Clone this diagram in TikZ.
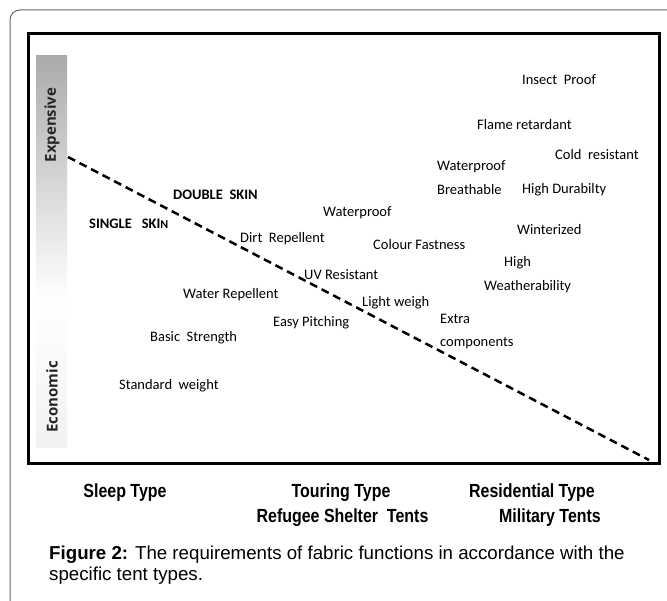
\documentclass[tikz,border=0pt]{standalone}
\usepackage{fontspec}
\setmainfont{Carlito}
\newfontfamily\arialn[FakeStretch=0.84]{Liberation Sans}
\newfontfamily\arialf{Liberation Sans}
\newfontfamily\opensf{Open Sans}
\definecolor{bartop}{HTML}{ABABAB}
\definecolor{barbot}{HTML}{F1F1F1}
\begin{document}
\begin{tikzpicture}[x=1pt,y=-1pt,
  lbl/.style={anchor=west,inner sep=0pt,font=\fontsize{14.5}{17}\selectfont,text=black},
  blbl/.style={lbl,font=\fontsize{14.5}{17}\selectfont\bfseries},
  axlbl/.style={inner sep=0pt,rotate=90,font=\opensf\bfseries\fontsize{15}{17}\selectfont,text=black!85},
  typelbl/.style={inner sep=0pt,font=\arialn\bfseries\fontsize{19}{21}\selectfont},
  caplbl/.style={anchor=north west,inner sep=0pt,align=left,font=\arialf\fontsize{18.7}{20.5}\selectfont},
  frame/.style={draw=black,line width=3pt},
  divider/.style={draw=black,line width=2.5pt,dash pattern=on 8pt off 5pt}]
\useasboundingbox (0,0) rectangle (667,601);
\clip (0,0) rectangle (667,601);
\draw[black!60,line width=1pt,rounded corners=10pt] (10,10) rectangle (700,640);
\fill[white] (28,34) rectangle (659,464);
\shade[top color=bartop,bottom color=white] (36,56) rectangle (67,300);
\shade[top color=white,bottom color=barbot] (36,299.5) rectangle (67,448);
\draw[frame] (28,34) rectangle (659,464);
\node[axlbl] (exp) at (52,125) {Expensive};
\node[axlbl] (eco) at (52,397) {Economic};
\coordinate (dstart) at (68,157);
\coordinate (dend) at (649,460);
\draw[divider] (dstart) -- (dend);
% labels
\node[lbl] (insect) at (522,80) {Insect\ \ Proof};
\node[lbl] (flame) at (477,125) {Flame retardant};
\node[lbl] (cold) at (555,155) {Cold\ \ resistant};
\node[lbl] (wp2) at (437,167) {Waterproof};
\node[lbl] (breath) at (437,190) {Breathable};
\node[lbl] (durab) at (522,190) {High Durabilty};
\node[lbl] (winter) at (517,230) {Winterized};
\node[lbl] (colour) at (373,245) {Colour Fastness};
\node[lbl] (high) at (504,263) {High};
\node[lbl] (weather) at (484,287) {Weatherability};
\node[blbl] (double) at (173,195) {DOUBLE\ \ SKIN};
\node[blbl] (single) at (89,224) {SINGLE\ \ \ SKI{\fontsize{12}{14}\selectfont N}};
\node[lbl] (wp1) at (323,213) {Waterproof};
\node[lbl] (dirt) at (240,239) {Dirt\ \ Repellent};
\node[lbl] (uv) at (304,275) {UV Resistant};
\node[lbl] (water) at (183,295) {Water Repellent};
\node[lbl] (light) at (362,303) {Light weigh};
\node[lbl] (easy) at (273,323) {Easy Pitching};
\node[lbl] (extra) at (440,319) {Extra};
\node[lbl] (comp) at (440,343) {components};
\node[lbl] (basic) at (150,338) {Basic\ \ Strength};
\node[lbl] (std) at (119,386) {Standard\ \ weight};
% tent types
\node[typelbl] (sleep) at (125,493) {Sleep Type};
\node[typelbl] (touring) at (341,493) {Touring Type};
\node[typelbl] (refugee) at (342.5,518) {Refugee Shelter\ \ Tents};
\node[typelbl] (resid) at (532,493) {Residential Type};
\node[typelbl] (milit) at (550,518) {Military Tents};
\node[caplbl] (caption) at (49,546) {{\bfseries Figure 2:} The requirements of fabric functions in accordance with the\\specific tent types.};
\end{tikzpicture}
\end{document}
